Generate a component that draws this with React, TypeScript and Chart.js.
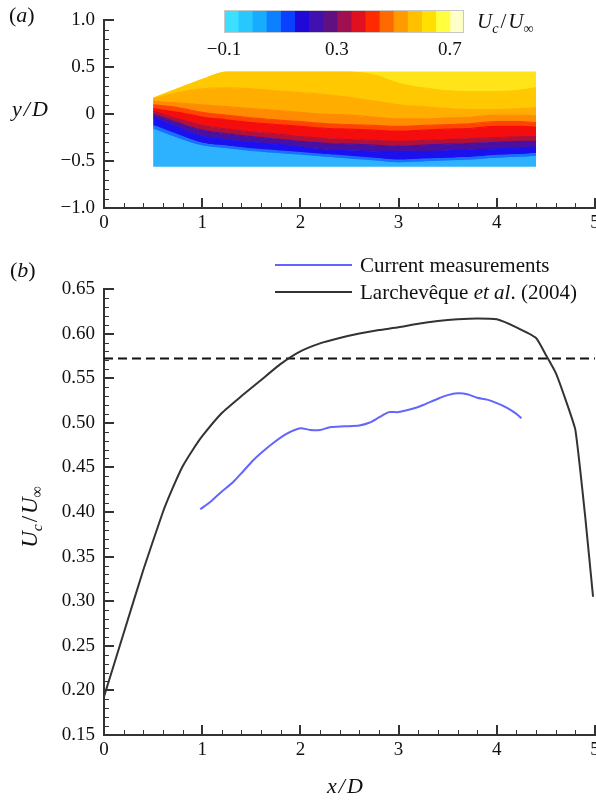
import React, { useEffect, useRef } from 'react';
import { Chart, registerables } from 'chart.js';
Chart.register(...registerables);

const SERIF = "'Liberation Serif', 'Times New Roman', serif";

// ---------- Panel (a): mean streamwise velocity field (colour bands) ----------
const FIELD_X = [0.5, 0.75, 1.0, 1.25, 1.5, 1.75, 2.0, 2.25, 2.5, 2.75, 3.0, 3.25, 3.5, 3.75, 4.0, 4.25, 4.4];
const FIELD_TOP = [0.17, 0.27, 0.37, 0.45, 0.45, 0.45, 0.45, 0.45, 0.45, 0.45, 0.45, 0.45, 0.45, 0.45, 0.45, 0.45, 0.45];
const FIELD_L1 = [0.17, 0.27, 0.37, 0.45, 0.45, 0.45, 0.45, 0.45, 0.45, 0.42, 0.33, 0.28, 0.25, 0.24, 0.24, 0.26, 0.28];
const FIELD_L2 = [0.16, 0.23, 0.27, 0.28, 0.27, 0.25, 0.23, 0.21, 0.18, 0.14, 0.10, 0.08, 0.06, 0.05, 0.05, 0.06, 0.07];
const FIELD_L3 = [0.14, 0.12, 0.10, 0.08, 0.06, 0.04, 0.02, 0.0, -0.01, -0.03, -0.05, -0.05, -0.04, -0.03, -0.01, -0.01, -0.02];
const FIELD_L4 = [0.10, 0.07, 0.02, -0.01, -0.04, -0.06, -0.08, -0.10, -0.11, -0.12, -0.13, -0.12, -0.11, -0.10, -0.08, -0.08, -0.09];
const FIELD_L5 = [0.06, 0.02, -0.03, -0.06, -0.09, -0.11, -0.13, -0.15, -0.16, -0.17, -0.18, -0.17, -0.16, -0.15, -0.13, -0.13, -0.14];
const FIELD_L6 = [0.03, -0.05, -0.12, -0.16, -0.19, -0.21, -0.24, -0.26, -0.27, -0.28, -0.29, -0.28, -0.27, -0.26, -0.25, -0.24, -0.24];
const FIELD_L7 = [0.0, -0.09, -0.17, -0.21, -0.24, -0.265, -0.29, -0.31, -0.32, -0.33, -0.34, -0.33, -0.32, -0.31, -0.30, -0.29, -0.29];
const FIELD_L8 = [-0.03, -0.14, -0.235, -0.27, -0.30, -0.32, -0.35, -0.38, -0.39, -0.395, -0.40, -0.40, -0.39, -0.38, -0.37, -0.36, -0.35];
const FIELD_L9 = [-0.12, -0.22, -0.31, -0.34, -0.37, -0.39, -0.41, -0.43, -0.45, -0.47, -0.49, -0.48, -0.47, -0.46, -0.44, -0.43, -0.42];
const FIELD_L10 = [-0.16, -0.26, -0.34, -0.37, -0.40, -0.42, -0.44, -0.46, -0.48, -0.50, -0.52, -0.51, -0.50, -0.49, -0.47, -0.46, -0.45];
const FIELD_BOTTOM = [-0.56, -0.56, -0.56, -0.56, -0.56, -0.56, -0.56, -0.56, -0.56, -0.56, -0.56, -0.56, -0.56, -0.56, -0.56, -0.56, -0.56];

const FIELD_BAND_COLORS = ['#2cb2ff', '#1870ff', '#1a10f0', '#4a10a0', '#b0103a', '#f50c0c', '#ff4400', '#ff8c00', '#ffae00', '#ffc800', '#ffe41a'];

const A_X_MAJOR = [0, 1, 2, 3, 4, 5];
const A_X_MINOR_STEP = 0.2;
const A_Y_MAJOR = [-1.0, -0.5, 0, 0.5, 1.0];
const A_Y_MINOR_STEP = 0.1;

// Colour bar
const CB_LEVELS = [-0.1, -0.05, 0.0, 0.05, 0.1, 0.15, 0.2, 0.25, 0.3, 0.35, 0.4, 0.45, 0.5, 0.55, 0.6, 0.65, 0.7, 0.75];
const CB_COLORS = ['#3ce0ff', '#28c8ff', '#18acff', '#0c80ff', '#0a40ff', '#2008d8', '#4010b0', '#601080', '#a01050', '#e01020', '#ff2a00', '#ff6a00', '#ff9a00', '#ffc000', '#ffe000', '#ffff40', '#ffffc8'];
const CB_TICKS = [-0.1, 0.3, 0.7];

// ---------- Panel (b): convection velocity ----------
const CUR_X = [0.98, 1.1, 1.2, 1.31, 1.42, 1.52, 1.62, 1.72, 1.82, 1.9, 2.0, 2.1, 2.2, 2.3, 2.45, 2.6, 2.7, 2.8, 2.9, 3.0, 3.15, 3.25, 3.4, 3.5, 3.6, 3.7, 3.8, 3.9, 4.0, 4.1, 4.2, 4.25];
const CUR_Y = [0.403, 0.413, 0.423, 0.433, 0.446, 0.458, 0.468, 0.477, 0.485, 0.490, 0.494, 0.492, 0.492, 0.495, 0.496, 0.497, 0.500, 0.506, 0.512, 0.512, 0.516, 0.520, 0.527, 0.531, 0.533, 0.532, 0.528, 0.526, 0.522, 0.517, 0.510, 0.505];
const LARCH_X = [0, 0.2, 0.4, 0.6, 0.7, 0.8, 0.9, 1.0, 1.2, 1.4, 1.6, 1.8, 2.0, 2.2, 2.4, 2.6, 2.8, 3.0, 3.2, 3.4, 3.6, 3.8, 4.0, 4.2, 4.4, 4.5, 4.6, 4.7, 4.8, 4.9, 4.98];
const LARCH_Y = [0.193, 0.264, 0.335, 0.400, 0.427, 0.451, 0.469, 0.485, 0.511, 0.530, 0.548, 0.566, 0.580, 0.589, 0.595, 0.600, 0.604, 0.607, 0.611, 0.614, 0.616, 0.617, 0.616, 0.607, 0.595, 0.576, 0.556, 0.526, 0.492, 0.395, 0.305];
const REF_LEVEL = 0.572;

const B_X_MAJOR = [0, 1, 2, 3, 4, 5];
const B_X_MINOR_STEP = 0.2;
const B_Y_MAJOR = [0.15, 0.2, 0.25, 0.3, 0.35, 0.4, 0.45, 0.5, 0.55, 0.6, 0.65];
const B_Y_MINOR_STEP = 0.01;

// ---------- helpers ----------
function buildTicks(major: number[], step: number): number[] {
  const min = major[0];
  const max = major[major.length - 1];
  const n = Math.round((max - min) / step);
  const out: number[] = [];
  for (let i = 0; i <= n; i++) out.push(+(min + i * step).toFixed(6));
  return out;
}
function isMajor(v: number, major: number[]) {
  return major.some((m) => Math.abs(m - v) < 1e-6);
}

const inwardTicks = {
  id: 'inwardTicks',
  afterDraw(chart: any, _args: any, opts: any) {
    if (!opts || !opts.enabled) return;
    const ctx = chart.ctx;
    const { left, bottom } = chart.chartArea;
    ctx.save();
    ctx.strokeStyle = '#333';
    const xs = chart.scales.x;
    const ys = chart.scales.y;
    xs.ticks.forEach((t: any) => {
      const maj = isMajor(t.value, opts.xMajor);
      const px = Math.round(xs.getPixelForValue(t.value)) + (maj ? 0 : 0.5);
      ctx.lineWidth = maj ? 2 : 1;
      ctx.beginPath();
      ctx.moveTo(px, bottom);
      ctx.lineTo(px, bottom - (maj ? 10 : 5));
      ctx.stroke();
    });
    ys.ticks.forEach((t: any) => {
      const maj = isMajor(t.value, opts.yMajor);
      const py = Math.round(ys.getPixelForValue(t.value)) + (maj ? 0 : 0.5);
      ctx.lineWidth = maj ? 2 : 1;
      ctx.beginPath();
      ctx.moveTo(left, py);
      ctx.lineTo(left + (maj ? 10 : 5), py);
      ctx.stroke();
    });
    ctx.restore();
  },
};

const cbOutline = {
  id: 'cbOutline',
  afterDatasetsDraw(chart: any) {
    const { left, top, right, bottom } = chart.chartArea;
    const ctx = chart.ctx;
    ctx.save();
    ctx.strokeStyle = '#c8c8c8';
    ctx.lineWidth = 1;
    ctx.strokeRect(left + 0.5, top + 0.5, right - left - 1, bottom - top - 1);
    ctx.restore();
  },
};

const tickFont = { family: SERIF, size: 19 };
const minus = (s: string) => s.replace('-', '\u2212');

function axis(min: number, max: number, ticks: number[], major: number[], fmt: (v: number) => string, padding: number, fit: (s: any) => void) {
  return {
    type: 'linear',
    min,
    max,
    afterBuildTicks: (s: any) => {
      s.ticks = ticks.map((v) => ({ value: v }));
    },
    afterFit: fit,
    ticks: {
      autoSkip: false,
      maxRotation: 0,
      minRotation: 0,
      padding,
      font: tickFont,
      color: '#111',
      callback: (v: any) => (isMajor(Number(v), major) ? fmt(Number(v)) : ''),
    },
    grid: { display: false, drawTicks: false, tickLength: 0 },
    border: { display: true, color: '#333', width: 2 },
  };
}

const Sub = ({ children }: { children: any }) => (
  <span style={{ fontSize: '0.68em', position: 'relative', top: '0.32em' }}>{children}</span>
);
const UcUinf = () => (
  <span>
    <i>U</i>
    <Sub>
      <i>c</i>
    </Sub>
    <span style={{ margin: '0 2px' }}>/</span>
    <i>U</i>
    <Sub>∞</Sub>
  </span>
);

export default function App() {
  const aRef = useRef<HTMLCanvasElement>(null);
  const cbRef = useRef<HTMLCanvasElement>(null);
  const bRef = useRef<HTMLCanvasElement>(null);

  useEffect(() => {
    const bounds = [FIELD_BOTTOM, FIELD_L10, FIELD_L9, FIELD_L8, FIELD_L7, FIELD_L6, FIELD_L5, FIELD_L4, FIELD_L3, FIELD_L2, FIELD_L1, FIELD_TOP];
    const fieldDatasets = bounds.map((arr, i) => {
      const color = i === 0 ? 'rgba(0,0,0,0)' : FIELD_BAND_COLORS[i - 1];
      return {
        data: FIELD_X.map((x, j) => ({ x, y: arr[j] })),
        borderColor: color,
        backgroundColor: color,
        borderWidth: i === 0 ? 0 : 1.2,
        pointRadius: 0,
        cubicInterpolationMode: 'monotone',
        fill: i === 0 ? false : '-1',
      };
    });

    const chartA = new Chart(aRef.current as HTMLCanvasElement, {
      type: 'line',
      data: { datasets: fieldDatasets as any },
      options: {
        responsive: false,
        animation: false,
        layout: { padding: { top: 12, right: 25, left: 0, bottom: 0 } },
        plugins: {
          legend: { display: false },
          tooltip: { enabled: false },
          inwardTicks: { enabled: true, xMajor: A_X_MAJOR, yMajor: A_Y_MAJOR },
        } as any,
        scales: {
          x: axis(0, 5, buildTicks(A_X_MAJOR, A_X_MINOR_STEP), A_X_MAJOR, (v) => String(v), 4, (s) => { s.height = 32; }),
          y: axis(-1, 1, buildTicks(A_Y_MAJOR, A_Y_MINOR_STEP), A_Y_MAJOR, (v) => (v === 0 ? '0' : minus(v.toFixed(1))), 9, (s) => { s.width = 104; }),
        } as any,
      },
      plugins: [inwardTicks as any],
    });

    const chartCB = new Chart(cbRef.current as HTMLCanvasElement, {
      type: 'bar',
      data: {
        labels: ['cb'],
        datasets: CB_COLORS.map((c, i) => ({
          data: [[CB_LEVELS[i], CB_LEVELS[i + 1]]],
          backgroundColor: c,
          borderWidth: 0,
          barPercentage: 1,
          categoryPercentage: 1,
          grouped: false,
        })) as any,
      },
      options: {
        indexAxis: 'y',
        responsive: false,
        animation: false,
        layout: { padding: { top: 10, left: 44, right: 16, bottom: 0 } },
        plugins: { legend: { display: false }, tooltip: { enabled: false } },
        scales: {
          x: {
            type: 'linear',
            min: CB_LEVELS[0],
            max: CB_LEVELS[CB_LEVELS.length - 1],
            afterBuildTicks: (s: any) => {
              s.ticks = CB_TICKS.map((v) => ({ value: v }));
            },
            afterFit: (s: any) => { s.height = 32; },
            ticks: {
              autoSkip: false,
              maxRotation: 0,
              padding: 6,
              font: tickFont,
              color: '#111',
              callback: (v: any) => minus(Number(v).toFixed(1)),
            },
            grid: { display: false, drawTicks: false },
            border: { display: false },
          },
          y: { display: false },
        } as any,
      },
      plugins: [cbOutline as any],
    });

    const chartB = new Chart(bRef.current as HTMLCanvasElement, {
      type: 'line',
      data: {
        datasets: [
          {
            label: 'Current measurements',
            data: CUR_X.map((x, i) => ({ x, y: CUR_Y[i] })),
            borderColor: '#6464ff',
            borderWidth: 2,
            pointRadius: 0,
            tension: 0.25,
            fill: false,
          },
          {
            label: 'Larchevêque et al. (2004)',
            data: LARCH_X.map((x, i) => ({ x, y: LARCH_Y[i] })),
            borderColor: '#333',
            borderWidth: 2,
            pointRadius: 0,
            tension: 0.15,
            fill: false,
          },
          {
            label: 'reference',
            data: [{ x: B_X_MAJOR[0], y: REF_LEVEL }, { x: B_X_MAJOR[B_X_MAJOR.length - 1], y: REF_LEVEL }],
            borderColor: '#111',
            borderWidth: 2,
            borderDash: [9, 5],
            pointRadius: 0,
            fill: false,
          },
        ] as any,
      },
      options: {
        responsive: false,
        animation: false,
        layout: { padding: { top: 49, right: 25, left: 0, bottom: 0 } },
        plugins: {
          legend: { display: false },
          tooltip: { enabled: false },
          inwardTicks: { enabled: true, xMajor: B_X_MAJOR, yMajor: B_Y_MAJOR },
        } as any,
        scales: {
          x: axis(0, 5, buildTicks(B_X_MAJOR, B_X_MINOR_STEP), B_X_MAJOR, (v) => String(v), 4, (s) => { s.height = 65; }),
          y: axis(0.15, 0.65, buildTicks(B_Y_MAJOR, B_Y_MINOR_STEP), B_Y_MAJOR, (v) => v.toFixed(2), 9, (s) => { s.width = 104; }),
        } as any,
      },
      plugins: [inwardTicks as any],
    });

    return () => {
      chartA.destroy();
      chartCB.destroy();
      chartB.destroy();
    };
  }, []);

  const txt = (extra: any) => ({ position: 'absolute' as const, fontFamily: SERIF, color: '#111', whiteSpace: 'nowrap' as const, ...extra });

  return (
    <div style={{ position: 'absolute', left: 0, top: 0, width: 596, height: 800, overflow: 'hidden', background: '#fff' }}>
      <canvas ref={aRef} width={620} height={240} style={{ position: 'absolute', left: 0, top: 0 }} />
      <canvas ref={cbRef} width={300} height={65} style={{ position: 'absolute', left: 180, top: 0 }} />
      <canvas ref={bRef} width={620} height={560} style={{ position: 'absolute', left: 0, top: 240 }} />

      <div style={txt({ left: 9, top: 3, fontSize: 22, lineHeight: '24px' })}>
        (<i>a</i>)
      </div>
      <div style={txt({ left: 12, top: 96, fontSize: 22, lineHeight: '26px', fontStyle: 'italic' })}>
        y<span style={{ margin: '0 2px' }}>/</span>D
      </div>
      <div style={txt({ left: 477, top: 8, fontSize: 21, lineHeight: '26px' })}>
        <UcUinf />
      </div>

      <div style={txt({ left: 10, top: 257, fontSize: 22, lineHeight: '26px' })}>
        (<i>b</i>)
      </div>

      <div style={{ position: 'absolute', left: 275, top: 264, width: 77, height: 2, background: '#6464ff' }} />
      <div style={txt({ left: 360, top: 253, fontSize: 21, lineHeight: '24px' })}>Current measurements</div>
      <div style={{ position: 'absolute', left: 275, top: 291, width: 77, height: 2, background: '#333' }} />
      <div style={txt({ left: 360, top: 280, fontSize: 21, lineHeight: '24px' })}>
        Larchevêque <i>et al</i>. (2004)
      </div>

      <div
        style={txt({
          left: 30 - 80,
          top: 517 - 15,
          width: 160,
          height: 30,
          lineHeight: '30px',
          textAlign: 'center',
          fontSize: 23,
          transform: 'rotate(-90deg)',
        })}
      >
        <UcUinf />
      </div>
      <div style={txt({ left: 327, top: 773, fontSize: 22, lineHeight: '26px', fontStyle: 'italic' })}>
        x<span style={{ margin: '0 2px' }}>/</span>D
      </div>
    </div>
  );
}
